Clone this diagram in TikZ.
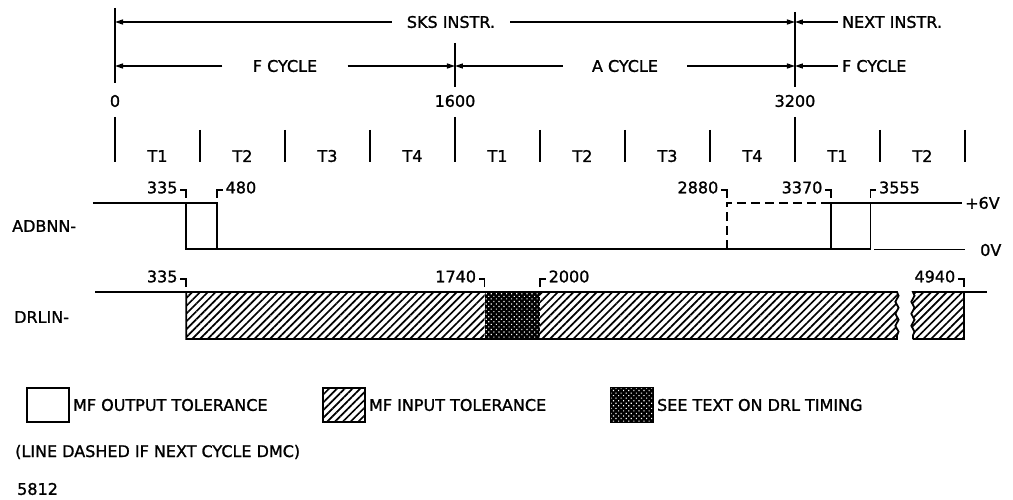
\documentclass[tikz,border=0pt]{standalone}
\usepackage{fontspec}
\setmainfont{DejaVu Sans}[BoldFont={DejaVu Sans}, BoldFeatures={FakeBold=1.2}]
\usetikzlibrary{arrows.meta,positioning,patterns.meta,decorations.pathmorphing}
\tikzset{
  lbl/.style={font=\fontsize{16}{19}\selectfont\bfseries, inner sep=2pt},
  wave/.style={line width=1.8pt},
  tickline/.style={line width=1.8pt},
  dim/.style={line width=1.4pt, -{Triangle[length=8pt,width=5pt]}},
  hook/.style={line width=1.4pt},
  hatch/.style={pattern={Lines[angle=45,distance=5.5pt,line width=1.7pt]}},
  dots/.style={fill=black, postaction={pattern={Dots[radius=0.8pt,distance=3.6pt,angle=45]}, pattern color=white}},
  brk/.style={decoration={snake, amplitude=1.6pt, segment length=12pt}},
  key/.style={draw, line width=1.8pt, minimum width=42pt, minimum height=34pt, inner sep=0pt}
}
\begin{document}
\begin{tikzpicture}[x=1pt,y=-1pt]
  \useasboundingbox (0,0) rectangle (1013,500);
  \begin{scope}[xshift=115pt, x=0.2125pt]
    \draw[tickline] (0,8) -- (0,83);
    \draw[tickline] (1600,43) -- (1600,87);
    \draw[tickline] (3200,12) -- (3200,87);
    \coordinate (s0) at (0,22);
    \coordinate (s3200) at (3200,22);
    \coordinate (c0) at (0,66);
    \coordinate (c1600) at (1600,66);
    \coordinate (c3200) at (3200,66);

    \node[lbl, minimum width=118pt] (sks) at (1581,22) {SKS INSTR.};
    \node[lbl, anchor=west, inner xsep=4pt] (next) at (3402,22) {NEXT INSTR.};
    \node[lbl, minimum width=125pt] (fcyc) at (800,66) {F CYCLE};
    \node[lbl, minimum width=124pt] (acyc) at (2400,66) {A CYCLE};
    \node[lbl, anchor=west, inner xsep=4pt] (fnext) at (3402,66) {F CYCLE};

    \draw[dim] (sks) -- (s0);
    \draw[dim] (sks) -- (s3200);
    \draw[dim] (next) -- (s3200);
    \draw[dim] (fcyc) -- (c0);
    \draw[dim] (fcyc) -- (c1600);
    \draw[dim] (acyc) -- (c1600);
    \draw[dim] (acyc) -- (c3200);
    \draw[dim] (fnext) -- (c3200);

    \foreach \t in {0,1600,3200} {
      \node[lbl] (n\t) at (\t,101) {\t};
      \draw[tickline] (\t,117) -- (\t,162);
    }
    \foreach \t in {400,800,1200,2000,2400,2800,3600,4000}
      \draw[tickline] (\t,130) -- (\t,162);
    \foreach \t/\p [count=\i] in {200/T1,600/T2,1000/T3,1400/T4,1800/T1,2200/T2,2600/T3,3000/T4,3400/T1,3800/T2}
      \node[lbl] (ph\i) at (\t,156) {\p};

    \draw[wave] (-104,203) -- (335,203);
    \draw[wave] (335,203) rectangle (480,249);
    \draw[wave] (480,249) -- (3370,249);
    \draw[wave] (3370,203) rectangle (3555,249);
    \draw[wave] (3555,203) -- (3986,203);
    \draw[wave, dash pattern=on 9pt off 5pt] (2880,249) -- (2880,203) -- (3370,203);
    \draw[line width=1pt] (3572,249) -- (4000,249);

    \draw[hook] (335,198) -- ++(0pt,8pt) -- ++(-6pt,0pt) node[lbl, left, yshift=2.5pt] (a335) {335};
    \draw[hook] (480,198) -- ++(0pt,8pt) -- ++(6pt,0pt) node[lbl, right, yshift=2.5pt] (a480) {480};
    \draw[hook] (2880,198) -- ++(0pt,8pt) -- ++(-6pt,0pt) node[lbl, left, yshift=2.5pt] (a2880) {2880};
    \draw[hook] (3370,198) -- ++(0pt,8pt) -- ++(-6pt,0pt) node[lbl, left, yshift=2.5pt] (a3370) {3370};
    \draw[hook] (3555,198) -- ++(0pt,8pt) -- ++(6pt,0pt) node[lbl, right, yshift=2.5pt] (a3555) {3555};

    \draw[wave] (-94,292) -- (335,292);
    \path[hatch] (335,292) rectangle (1740,339);
    \path[dots] (1740,292) rectangle (2000,339);
    \path[hatch] (2000,292) -- (3680,292) decorate[brk] {-- (3680,339)} -- (2000,339) -- cycle;
    \draw[wave] (335,339) -- (335,292) -- (3680,292) decorate[brk] {-- (3680,339)} -- cycle;
    \draw[wave, hatch] (3755,339) -- (3995,339) -- (3995,292) -- (3755,292) decorate[brk] {-- (3755,339)};
    \draw[wave] (3995,292) -- (4104,292);

    \draw[hook] (335,287) -- ++(0pt,8pt) -- ++(-6pt,0pt) node[lbl, left, yshift=2.5pt] (d335) {335};
    \draw[hook] (1740,287) -- ++(0pt,8pt) -- ++(-6pt,0pt) node[lbl, left, yshift=2.5pt] (d1740) {1740};
    \draw[hook] (2000,287) -- ++(0pt,8pt) -- ++(6pt,0pt) node[lbl, right, yshift=2.5pt] (d2000) {2000};
    \draw[hook] (3995,287) -- ++(0pt,8pt) -- ++(-6pt,0pt) node[lbl, left, yshift=2.5pt] (d4940) {4940};
  \end{scope}

  \node[lbl, anchor=west] (adbnn) at (10,226) {ADBNN-};
  \node[lbl, anchor=west] (drlin) at (12,317) {DRLIN-};
  \node[lbl, anchor=west] (hi) at (963,203) {+6V};
  \node[lbl, anchor=west] (lo) at (978,250) {0V};

  \node[key] (kout) at (48,405) {};
  \node[lbl, right=1pt of kout] (tout) {MF OUTPUT TOLERANCE};
  \node[key, hatch] (kin) at (344,405) {};
  \node[lbl, right=1pt of kin] (tin) {MF INPUT TOLERANCE};
  \node[key, dots] (kdrl) at (632,405) {};
  \node[lbl, right=1pt of kdrl] (tdrl) {SEE TEXT ON DRL TIMING};

  \node[lbl, anchor=west] (dmc) at (13,452) {(LINE DASHED IF NEXT CYCLE DMC)};
  \node[lbl, anchor=west] (fig) at (15,489) {5812};
\end{tikzpicture}
\end{document}
